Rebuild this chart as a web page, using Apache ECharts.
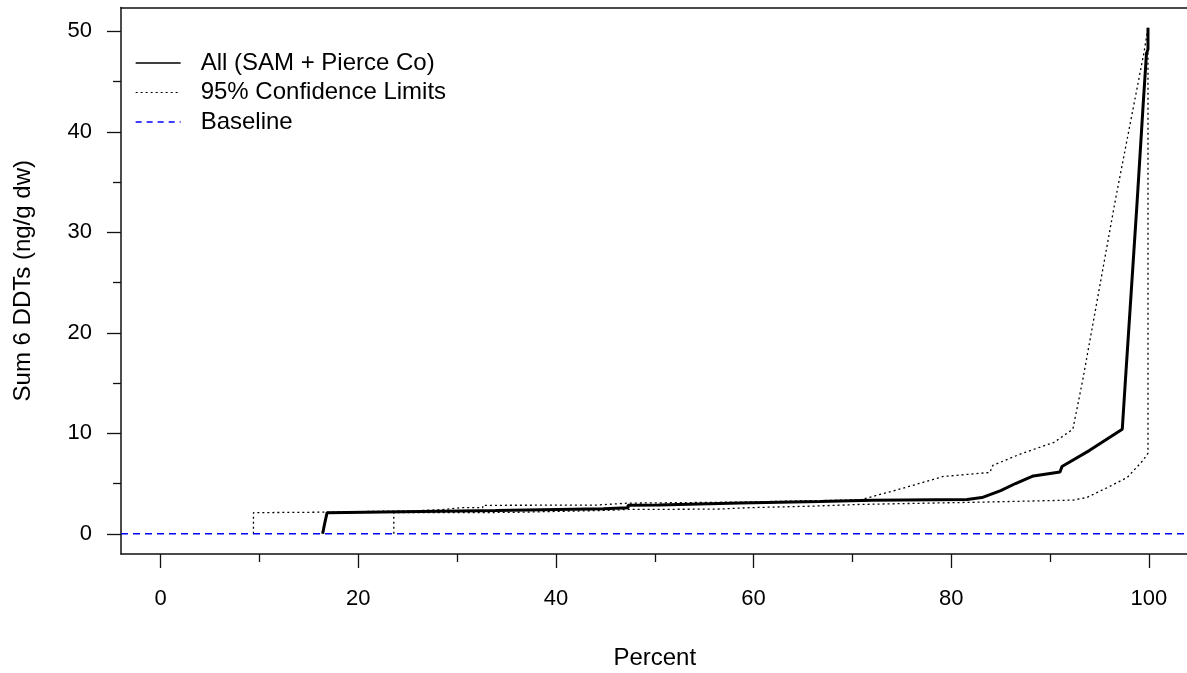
<!DOCTYPE html>
<html>
<head>
<meta charset="utf-8">
<script src="https://cdn.jsdelivr.net/npm/echarts@6/dist/echarts.min.js"></script>
<style>
html,body{margin:0;padding:0;background:#fff;}
#chart{width:1187px;height:673px;}
</style>
</head>
<body>
<div id="chart"></div>
<script>
// ---- data (x = Percent, y = Sum 6 DDTs ng/g dw) ----
var mainSeries = [
  [16.4,0],[16.6,1.0],[16.85,2.1],[17.0,2.2],[28.3,2.25],[28.3,2.3],[33.9,2.32],[33.9,2.45],
  [44.8,2.48],[44.8,2.56],[47.3,2.6],[47.3,2.83],[50.4,2.85],[50.4,3.0],[58.6,3.05],[58.6,3.16],
  [66.7,3.2],[66.7,3.3],[72,3.33],[81.6,3.42],[81.7,3.56],[83.1,3.6],[85,4.3],[86.5,5.0],
  [88.3,5.75],[91,6.15],[91.2,6.7],[94,8.3],[97.3,10.4],[97.6,15],[98.2,24],[98.8,33],
  [99.4,42.5],[99.75,47.8],[99.9,48.2],[99.9,50.35]
];
var upperCL = [
  [9.4,0],[9.4,2.1],[16.9,2.15],[17.0,2.2],[26,2.3],[28.5,2.4],[30.5,2.6],[32.6,2.6],[32.6,2.83],
  [44,2.85],[44,3.0],[47.3,3.05],[47.3,3.12],[58.6,3.15],[58.6,3.3],[70.8,3.38],[75,4.5],
  [79.2,5.7],[83.9,6.1],[84.2,6.8],[86.9,7.9],[90.4,9.1],[92.3,10.4],[93.3,15.3],[96.6,33.2],
  [99.5,47.9],[99.9,50.35]
];
var lowerCL = [
  [23.6,0],[23.6,2.1],[35.1,2.12],[35.1,2.3],[44.8,2.32],[44.8,2.4],[47.3,2.42],[56.3,2.45],
  [56.3,2.55],[59.7,2.6],[59.7,2.7],[66,2.75],[66,2.9],[70.8,2.92],[70.8,3.1],[83.2,3.15],
  [83.2,3.3],[92.3,3.35],[93.7,3.6],[95.8,4.6],[97.8,5.6],[99.4,7.3],[99.9,8.0],[99.9,50.35]
];
var baseline = [[-4,0],[104,0]];
var xTicks = [0,20,40,60,80,100];
var xMinorTicks = [10,30,50,70,90];
var yTicks = [0,10,20,30,40,50];
var yMinorTicks = [5,15,25,35,45];
var seriesNames = ['All (SAM + Pierce Co)','95% Confidence Limits','Baseline'];

var FONT = 'Liberation Sans, Arial, sans-serif';
var XMIN = -4, XMAX = 104, YMIN = -2.014, YMAX = 52.364;
var hidden = { color: 'rgba(0,0,0,0)', borderWidth: 0, opacity: 0 };
var boxLine = { show: true, onZero: false, lineStyle: { color: '#111', width: 1.5 } };

var chart = echarts.init(document.getElementById('chart'));
var option = {
  animation: false,
  backgroundColor: '#fff',
  grid: { left: 121, top: 7.5, width: 1067.5, height: 546.5, show: false,
          outerBoundsMode: 'none', containLabel: false },
  legend: {
    orient: 'vertical', left: 135, top: 51, padding: 0, itemWidth: 45, itemHeight: 14, itemGap: 5.5,
    textStyle: { fontFamily: FONT, fontSize: 24, color: '#000', padding: [0,0,0,15] },
    data: [
      { name: seriesNames[0], itemStyle: hidden, lineStyle: { width: 1.3, color: '#000', type: 'solid' } },
      { name: seriesNames[1], itemStyle: hidden, lineStyle: { width: 1.2, color: '#000', type: [2,3] } },
      { name: seriesNames[2], itemStyle: hidden, lineStyle: { width: 1.3, color: '#0000ff', type: [6,5] } }
    ]
  },
  xAxis: [
    { type: 'value', min: XMIN, max: XMAX, position: 'bottom',
      name: 'Percent', nameLocation: 'middle', nameGap: 92,
      nameTextStyle: { fontFamily: FONT, fontSize: 24, color: '#000' },
      axisLine: boxLine,
      axisTick: { show: true, length: 14, customValues: xTicks, lineStyle: { color: '#111', width: 1.3 } },
      axisLabel: { show: true, customValues: xTicks, margin: 34, fontFamily: FONT, fontSize: 22, color: '#000' },
      splitLine: { show: false } },
    { type: 'value', min: XMIN, max: XMAX, position: 'bottom',
      axisLine: { show: false, onZero: false },
      axisTick: { show: true, length: 8, customValues: xMinorTicks, lineStyle: { color: '#111', width: 1.3 } },
      axisLabel: { show: false }, splitLine: { show: false } },
    { type: 'value', min: XMIN, max: XMAX, position: 'top',
      axisLine: boxLine, axisTick: { show: false },
      axisLabel: { show: false }, splitLine: { show: false } }
  ],
  yAxis: [
    { type: 'value', min: YMIN, max: YMAX, position: 'left',
      name: 'Sum 6 DDTs (ng/g dw)', nameLocation: 'middle', nameGap: 86,
      nameTextStyle: { fontFamily: FONT, fontSize: 24, color: '#000' },
      axisLine: boxLine,
      axisTick: { show: true, length: 14, customValues: yTicks, lineStyle: { color: '#111', width: 1.3 } },
      axisLabel: { show: true, customValues: yTicks, margin: 29, fontFamily: FONT, fontSize: 22, color: '#000' },
      splitLine: { show: false } },
    { type: 'value', min: YMIN, max: YMAX, position: 'left',
      axisLine: { show: false, onZero: false },
      axisTick: { show: true, length: 8, customValues: yMinorTicks, lineStyle: { color: '#111', width: 1.3 } },
      axisLabel: { show: false }, splitLine: { show: false } }
  ],
  series: [
    { name: seriesNames[0], type: 'line', data: mainSeries, symbol: 'none', z: 3,
      lineStyle: { color: '#000', width: 3 }, itemStyle: { color: '#000' } },
    { name: seriesNames[1], type: 'line', data: upperCL, symbol: 'none', z: 2,
      lineStyle: { color: '#000', width: 1.3, type: [2,3] }, itemStyle: { color: '#000' } },
    { name: seriesNames[1], type: 'line', data: lowerCL, symbol: 'none', z: 2,
      lineStyle: { color: '#000', width: 1.3, type: [2,3] }, itemStyle: { color: '#000' } },
    { name: seriesNames[2], type: 'line', data: baseline, symbol: 'none', z: 4,
      lineStyle: { color: '#0000ff', width: 1.4, type: [7,5] }, itemStyle: { color: '#0000ff' } }
  ]
};
chart.setOption(option);
</script>
</body>
</html>
